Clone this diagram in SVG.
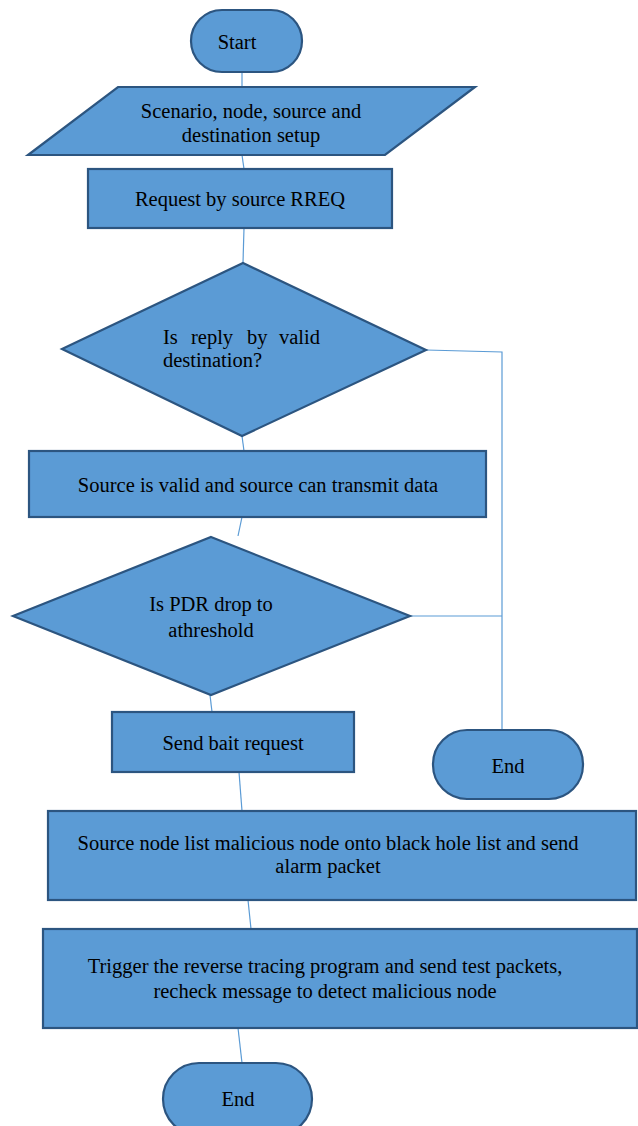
<svg xmlns="http://www.w3.org/2000/svg" width="638" height="1126" viewBox="0 0 638 1126">
<style>
.shape{fill:#5B9BD5;stroke:#2C5580;stroke-width:2.2}
.conn{fill:none;stroke:#5B9BD5;stroke-width:1.2}
text{font-family:"Liberation Serif","Times New Roman",serif;font-size:20.5px;fill:#000}
.c{text-anchor:middle}
</style>
<rect width="638" height="1126" fill="#fff"/>
<g id="connectors">
<line class="conn" x1="242" y1="72" x2="242" y2="87"/>
<line class="conn" x1="242" y1="155" x2="244" y2="169"/>
<line class="conn" x1="244" y1="228" x2="243" y2="263"/>
<polyline class="conn" points="426,350 502,352 502,730"/>
<line class="conn" x1="242" y1="436" x2="244" y2="451"/>
<line class="conn" x1="242" y1="517" x2="238" y2="536"/>
<line class="conn" x1="410" y1="616" x2="502" y2="616"/>
<line class="conn" x1="210" y1="695" x2="212" y2="712"/>
<line class="conn" x1="239" y1="772" x2="242" y2="811"/>
<line class="conn" x1="248" y1="900" x2="251" y2="929"/>
<line class="conn" x1="238" y1="1028" x2="242" y2="1063"/>
</g>
<g id="start">
<rect class="shape" x="191" y="10" width="111" height="62" rx="31" ry="31"/>
<text class="c" x="237" y="49">Start</text>
</g>
<g id="setup">
<polygon class="shape" points="118,87 475,87 385,155 28,155"/>
<text class="c" x="251" y="118">Scenario, node, source and</text>
<text class="c" x="251" y="142">destination setup</text>
</g>
<g id="request">
<rect class="shape" x="88" y="169" width="304" height="59"/>
<text class="c" x="240" y="206">Request by source RREQ</text>
</g>
<g id="decision1">
<polygon class="shape" points="243,263 426,350 242,436 62,349"/>
<text y="344"><tspan x="163">Is</tspan><tspan x="191">reply</tspan><tspan x="247">by</tspan><tspan x="279">valid</tspan></text>
<text x="163" y="367">destination?</text>
</g>
<g id="valid">
<rect class="shape" x="29" y="451" width="457" height="66"/>
<text class="c" x="258" y="492">Source is valid and source can transmit data</text>
</g>
<g id="decision2">
<polygon class="shape" points="211,537 410,616 211,695 13,616"/>
<text class="c" x="211" y="611">Is PDR drop to</text>
<text class="c" x="211" y="637">athreshold</text>
</g>
<g id="bait">
<rect class="shape" x="112" y="712" width="242" height="60"/>
<text class="c" x="233" y="750">Send bait request</text>
</g>
<g id="end1">
<rect class="shape" x="433" y="730" width="150" height="69" rx="34" ry="34"/>
<text class="c" x="508" y="773">End</text>
</g>
<g id="blacklist">
<rect class="shape" x="48" y="811" width="588" height="89"/>
<text class="c" x="328" y="850">Source node list malicious node onto black hole list and send</text>
<text class="c" x="328" y="873">alarm packet</text>
</g>
<g id="trace">
<rect class="shape" x="43" y="929" width="594" height="99"/>
<text class="c" x="325" y="973">Trigger the reverse tracing program and send test packets,</text>
<text class="c" x="325" y="998">recheck message to detect malicious node</text>
</g>
<g id="end2">
<rect class="shape" x="163" y="1063" width="149" height="72" rx="36" ry="36"/>
<text class="c" x="238" y="1106">End</text>
</g>
</svg>
